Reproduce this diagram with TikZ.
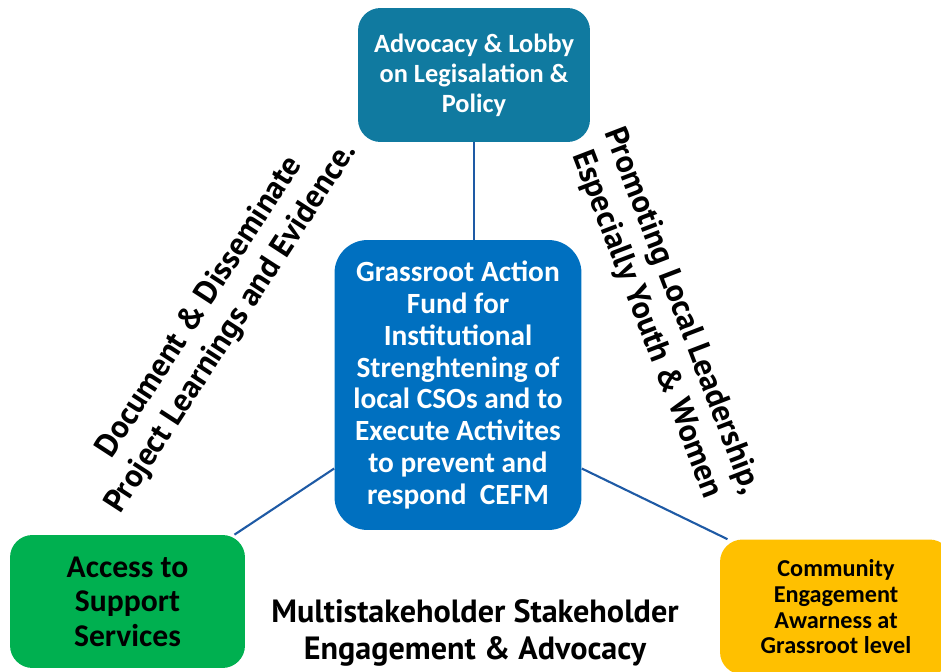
\documentclass[tikz,border=0pt]{standalone}
\usepackage{fontspec}
\setmainfont{Carlito}
\newfontfamily\gillfont{PT Sans}
\definecolor{advteal}{RGB}{16,122,160}
\definecolor{fundblue}{RGB}{0,112,192}
\definecolor{accgreen}{RGB}{0,176,80}
\definecolor{commyellow}{RGB}{255,192,0}
\definecolor{linkblue}{RGB}{30,90,165}
\begin{document}
\begin{tikzpicture}[x=0.02cm, y=-0.02cm,
    box/.style={rounded corners=0.45cm, align=center, inner sep=0pt},
    link/.style={draw=linkblue, line width=1.2pt},
    side/.style={font=\gillfont\bfseries\fontsize{18.3}{21.5}\selectfont, align=center}]
  \useasboundingbox (0,0) rectangle (941,672);
  \node[box, fill=advteal, text=white, minimum width=4.64cm, minimum height=2.68cm,
        font=\bfseries\fontsize{15}{17}\selectfont] (Advocacy) at (474,75)
        {Advocacy \& Lobby\\on Legisalation \&\\Policy};
  \node[box, fill=fundblue, text=white, rounded corners=0.66cm, minimum width=4.94cm,
        minimum height=5.8cm, font=\bfseries\fontsize{16.7}{18.2}\selectfont] (Fund) at (458,385)
        {Grassroot Action\\Fund for\\Institutional\\Strenghtening of\\local CSOs and to\\Execute Activites\\to prevent and\\respond\ \ CEFM};
  \node[box, fill=accgreen, minimum width=4.7cm, minimum height=2.66cm,
        font=\bfseries\fontsize{18}{19.6}\selectfont] (Access) at (127.5,601.5)
        {Access to\\Support\\Services};
  \node[box, fill=commyellow, minimum width=4.64cm, minimum height=2.7cm,
        font=\bfseries\fontsize{13.8}{14.6}\selectfont] (Community) at (836,607)
        {Community\\Engagement\\Awarness at\\Grassroot level};
  % links to the centre
  \draw[link] (Advocacy.south) -- (Advocacy.south |- Fund.north);
  \draw[link] (Fund.214.6) -- (Access.32);
  \draw[link] (Fund.-34.6) -- (Community.148);
  \begin{scope}[every node/.style={side}]
    \node[rotate=57] (Document) at (216,318)
      {Document \& Disseminate\\Project Learnings and Evidence.};
    \node[rotate=-69] (Promoting) at (664,318)
      {Promoting Local Leadership,\\Especially Youth \& Women};
    \node (Multi) at (475,633) {Multistakeholder Stakeholder\\Engagement \& Advocacy};
  \end{scope}
\end{tikzpicture}
\end{document}
